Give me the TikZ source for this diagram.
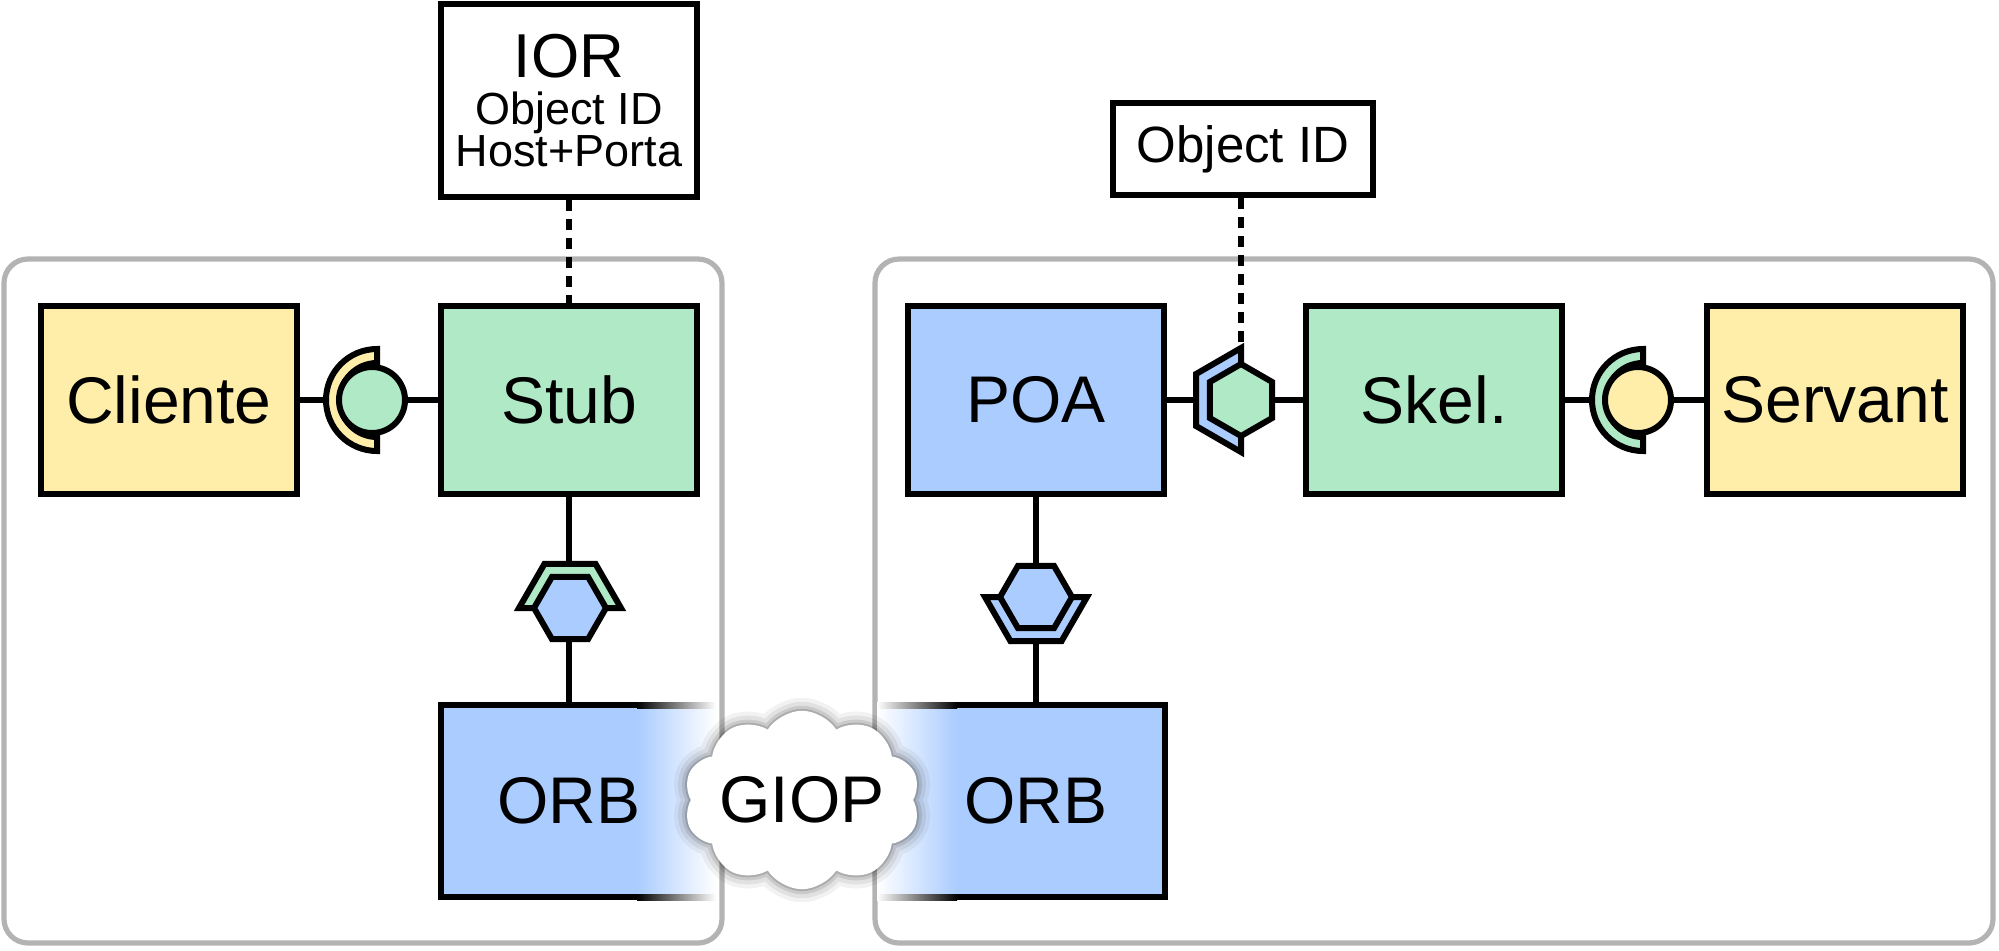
\documentclass[tikz,border=0pt]{standalone}
\usepackage{fontspec}
\setmainfont{Liberation Sans}
\usetikzlibrary{shapes.symbols,calc}
\definecolor{cyel}{HTML}{FFEEAA}
\definecolor{cgrn}{HTML}{AFE9C6}
\definecolor{cblu}{HTML}{AACCFF}
\definecolor{cgry}{HTML}{B3B3B3}
\pgfdeclareradialshading{cloudshade}{\pgfpoint{0bp}{0bp}}{color(0bp)=(white); color(26bp)=(white); color(38bp)=(black!5); color(45bp)=(black!15); color(50bp)=(black!28)}
\begin{document}
\begin{tikzpicture}[x=0.5pt,y=-0.5pt,
  box/.style={draw=black, line width=3pt, minimum width=128pt, minimum height=94pt, inner sep=0pt, font=\fontsize{33}{36}\selectfont},
  conn/.style={line width=3pt},
  dashconn/.style={line width=3pt, dash pattern=on 5.5pt off 4pt},
  sym/.style={draw=black, line width=3pt, line join=miter},
  container/.style={draw=cgry, line width=2.6pt, rounded corners=12pt}]
\useasboundingbox (0,0) rectangle (1999,950);

% containers
\draw[container] (4,259) rectangle (722,943);
\draw[container] (875,259) rectangle (1993,943);

% left ORB body with fade
\fill[cblu] (441,705) rectangle (637,897);
\shade[left color=cblu, right color=white] (637,705) rectangle (716,897);
\draw[conn] (637,705) -- (441,705) -- (441,897) -- (637,897);
\shade[left color=black, right color=white] (637,702) rectangle (716,708);
\shade[left color=black, right color=white] (637,894) rectangle (716,900);

% right ORB body with fade
\fill[cblu] (957,705) rectangle (1165,897);
\shade[left color=white, right color=cblu] (877,705) rectangle (957,897);
\draw[conn] (957,705) -- (1165,705) -- (1165,897) -- (957,897);
\shade[left color=white, right color=black] (877,702) rectangle (957,708);
\shade[left color=white, right color=black] (877,894) rectangle (957,900);

% boxes
\node[box, fill=cyel] (cliente) at (169,400) {Cliente};
\node[box, fill=cgrn] (stub) at (569,400) {Stub};
\node[box, fill=cblu] (poa) at (1036,400) {POA};
\node[box, fill=cgrn] (skel) at (1434,400) {Skel.};
\node[box, fill=cyel] (servant) at (1835,400) {Servant};
\node[box, fill=white, minimum height=96.5pt, align=center, font=\fontsize{22.5}{19.5}\selectfont] (ior) at (569,100.5)
  {{\fontsize{31}{31}\selectfont IOR}\\[4pt]Object ID\\Host+Porta};
\node[box, fill=white, minimum width=130pt, minimum height=46pt, font=\fontsize{25.5}{28}\selectfont] (oid) at (1243,149) {Object ID};
\node[box, draw=none, minimum height=96pt] (orbL) at (569,801) {ORB};
\node[box, draw=none, minimum height=96pt] (orbR) at (1036,801) {ORB};

% connectors
\draw[conn] (cliente.east) -- (stub.west);
\draw[conn] (stub.south) -- (orbL.north);
\draw[conn] (poa.east) -- (skel.west);
\draw[conn] (poa.south) -- (orbR.north);
\draw[conn] (skel.east) -- (servant.west);

% ball and socket: Cliente - Stub
\coordinate (s1) at (377,400);
\draw[sym, fill=cyel] ($(s1)+(0,-51)$) arc[start angle=-90, end angle=-270, radius=51]
  -- ++(0,-14) arc[start angle=90, end angle=270, radius=37] -- cycle;
\draw[sym, fill=cgrn] (372,400) circle[radius=33];

% ball and socket: Skel - Servant
\coordinate (s2) at (1643,400);
\draw[sym, fill=cgrn] ($(s2)+(0,-51)$) arc[start angle=-90, end angle=-270, radius=51]
  -- ++(0,-14) arc[start angle=90, end angle=270, radius=37] -- cycle;
\draw[sym, fill=cyel] (1638,400) circle[radius=33];

% hexagon Stub - ORB (cap above)
\coordinate (h1) at (570,608);
\draw[sym, fill=cgrn] ($(h1)+(51,0)$) -- ++(-25.5,-44.2) -- ++(-51,0) -- ++(-25.5,44.2) -- cycle;
\draw[sym, fill=cblu] ($(h1)+(36,0)$) -- ++(-18,-31.2) -- ++(-36,0) -- ++(-18,31.2) -- ++(18,31.2) -- ++(36,0) -- cycle;

% hexagon POA - ORB (cap below)
\coordinate (h2) at (1036,597);
\draw[sym, fill=cblu] ($(h2)+(51,0)$) -- ++(-25.5,44.2) -- ++(-51,0) -- ++(-25.5,-44.2) -- cycle;
\draw[sym, fill=cblu] ($(h2)+(36,0)$) -- ++(-18,-31.2) -- ++(-36,0) -- ++(-18,31.2) -- ++(18,31.2) -- ++(36,0) -- cycle;

% hexagon POA - Skel (cap left)
\coordinate (h3) at (1241,400);
\coordinate (h3t) at (1241,364);
\draw[sym, fill=cblu] ($(h3)+(0,-52)$) -- ++(-45,26) -- ++(0,52) -- ++(45,26) -- cycle;
\draw[sym, fill=cgrn] (h3t) -- ++(31.2,18) -- ++(0,36) -- ++(-31.2,18) -- ++(-31.2,-18) -- ++(0,-36) -- cycle;

% dashed references
\draw[dashconn] (ior.south) -- (stub.north);
\draw[dashconn] (h3t |- oid.south) -- (h3t);

% GIOP cloud
\node[cloud, cloud puffs=10, cloud puff arc=115, aspect=1.5, inner xsep=-2pt, inner ysep=2.5pt, outer sep=0pt,
  shading=cloudshade,
  preaction={draw=black, draw opacity=0.05, line width=13pt},
  preaction={draw=black, draw opacity=0.07, line width=9pt},
  preaction={draw=black, draw opacity=0.1, line width=5pt},
  preaction={draw=black, draw opacity=0.15, line width=2pt},
  font=\fontsize{33}{36}\selectfont] (giop) at (802,800) {GIOP};
\end{tikzpicture}
\end{document}
